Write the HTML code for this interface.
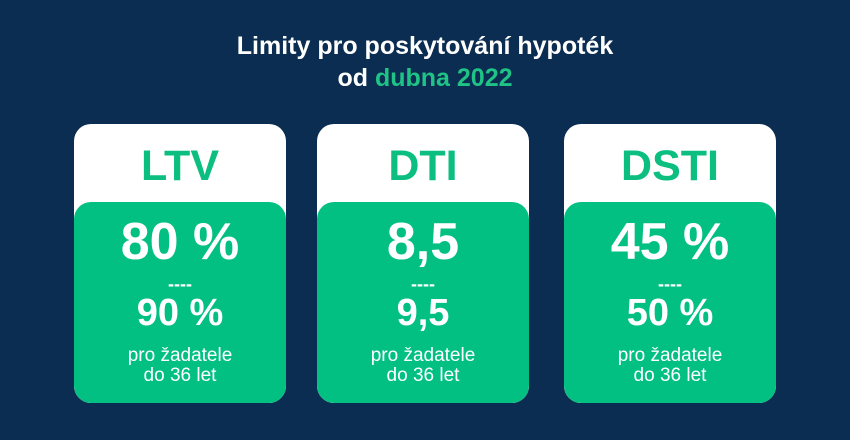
<!DOCTYPE html>
<html><head><meta charset="utf-8"><style>
body{margin:0;width:850px;height:440px;background:#0b2d51;font-family:"Liberation Sans",sans-serif;overflow:hidden;position:relative}
.title{position:absolute;left:0;top:30px;width:850px;text-align:center;color:#fff;font-weight:bold;font-size:25px;line-height:32px}
.title span{color:#1fc386}
.card{position:absolute;top:124px;width:212px;height:279px;background:#fff;border-radius:17px;overflow:hidden}
.head{height:78px;text-align:center;color:#0cbf80;font-size:43px;line-height:84px;font-weight:bold}
.body{position:absolute;left:0;top:78px;width:212px;height:201px;background:#02c081;border-radius:17px;color:#fff;text-align:center}
.big{font-size:52px;font-weight:bold;line-height:52px;margin-top:14px}
.dash{font-size:18px;font-weight:bold;line-height:14px;margin-top:9px}
.mid{font-size:38px;font-weight:bold;line-height:40px;margin-top:2px}
.small{font-size:19px;line-height:20px;margin-top:13px}
</style></head><body>
<div class="title">Limity pro poskytování hypoték<br>od <span>dubna 2022</span></div>
<div class="card" style="left:74px"><div class="head">LTV</div><div class="body"><div class="big">80 %</div><div class="dash">----</div><div class="mid">90 %</div><div class="small">pro žadatele<br>do 36 let</div></div></div>
<div class="card" style="left:317px"><div class="head">DTI</div><div class="body"><div class="big">8,5</div><div class="dash">----</div><div class="mid">9,5</div><div class="small">pro žadatele<br>do 36 let</div></div></div>
<div class="card" style="left:564px"><div class="head">DSTI</div><div class="body"><div class="big">45 %</div><div class="dash">----</div><div class="mid">50 %</div><div class="small">pro žadatele<br>do 36 let</div></div></div>
</body></html>
